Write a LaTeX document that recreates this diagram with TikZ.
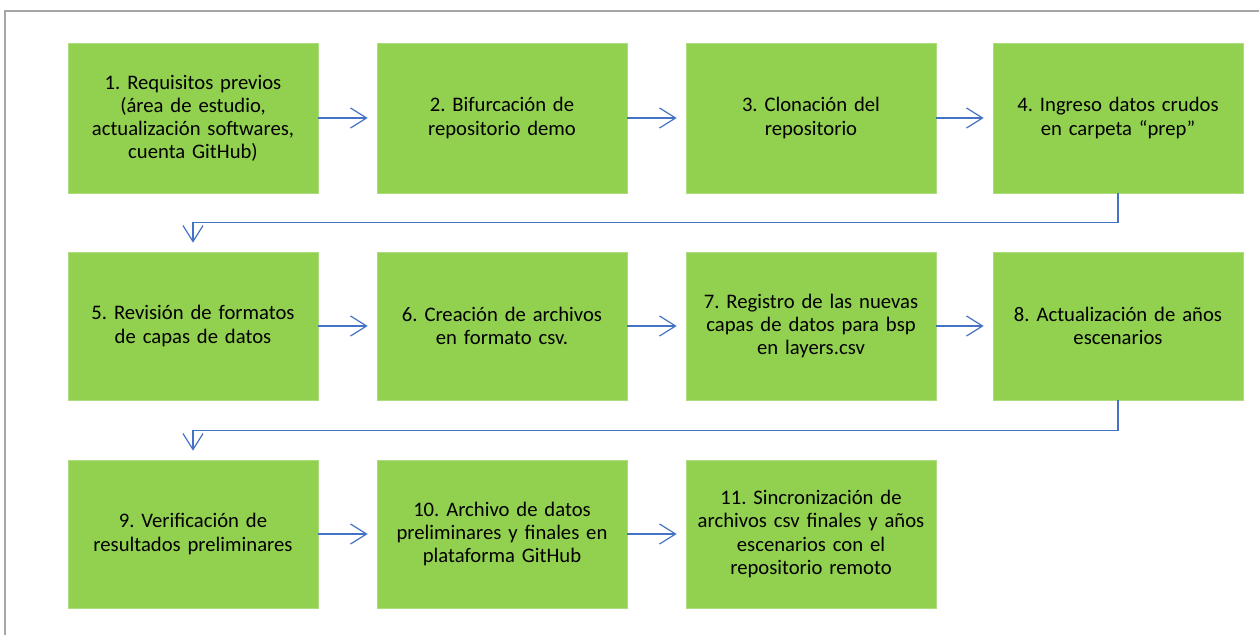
\documentclass[tikz,border=0pt]{standalone}
\usepackage{fontspec}
\setmainfont{Carlito}
\usepackage{tikz}
\usetikzlibrary{arrows.meta}
\frenchspacing

\definecolor{pasoverde}{HTML}{92D050}
\definecolor{flechaazul}{HTML}{4472C4}
\definecolor{marcogris}{HTML}{A6A6A6}

\tikzset{
	paso/.style={fill=pasoverde, draw=pasoverde!75!white, line width=0.5pt,
		text width=180pt, inner xsep=3.75pt, minimum height=111pt,
		align=center, font=\fontsize{15.5}{17.3}\selectfont},
	flecha/.style={draw=flechaazul, line width=0.9pt,
		-{Straight Barb[length=12pt,width=15pt]}}
}

\begin{document}
\begin{tikzpicture}[x=0.75pt, y=-0.75pt]
	\useasboundingbox (0,0) rectangle (1259,635);
	\draw[marcogris, line width=1.5pt] (5,635) -- (5,11) -- (1259,11);

	\node[paso, minimum height=112.5pt] at (193,118) (p1) {1. Requisitos previos\\(área de estudio,\\actualización softwares,\\cuenta GitHub)};
	\node[paso, minimum height=112.5pt] at (502,118) (p2) {2. Bifurcación de\\repositorio demo};
	\node[paso, minimum height=112.5pt] at (811,118) (p3) {3. Clonación del\\repositorio};
	\node[paso, minimum height=112.5pt] at (1118,118) (p4) {4. Ingreso datos crudos\\en carpeta “prep”};

	\node[paso] at (193,326) (p5) {5. Revisión de formatos\\de capas de datos};
	\node[paso] at (502,326) (p6) {6. Creación de archivos\\en formato csv.};
	\node[paso] at (811,326) (p7) {7. Registro de las nuevas\\capas de datos para bsp\\en layers.csv};
	\node[paso] at (1118,326) (p8) {8. Actualización de años\\escenarios};

	\node[paso] at (193,534) (p9) {9. Verificación de\\resultados preliminares};
	\node[paso] at (502,534) (p10) {10. Archivo de datos\\preliminares y finales en\\plataforma GitHub};
	\node[paso] at (811,534) (p11) {11. Sincronización de\\archivos csv finales y años\\escenarios con el\\repositorio remoto};

	\path[flecha, shorten >=6.75pt] (p1) edge (p2);
	\path[flecha, shorten >=6.75pt] (p2) edge (p3);
	\path[flecha, shorten >=6.75pt] (p3) edge (p4);
	\draw[flecha, shorten >=6.75pt] (p4.south) -- ++(0,29) -| (p5.north);
	\path[flecha, shorten >=6.75pt] (p5) edge (p6);
	\path[flecha, shorten >=6.75pt] (p6) edge (p7);
	\path[flecha, shorten >=6.75pt] (p7) edge (p8);
	\draw[flecha, shorten >=6.75pt] (p8.south) -- ++(0,30) -| (p9.north);
	\path[flecha, shorten >=6.75pt] (p9) edge (p10);
	\path[flecha, shorten >=6.75pt] (p10) edge (p11);
\end{tikzpicture}
\end{document}
